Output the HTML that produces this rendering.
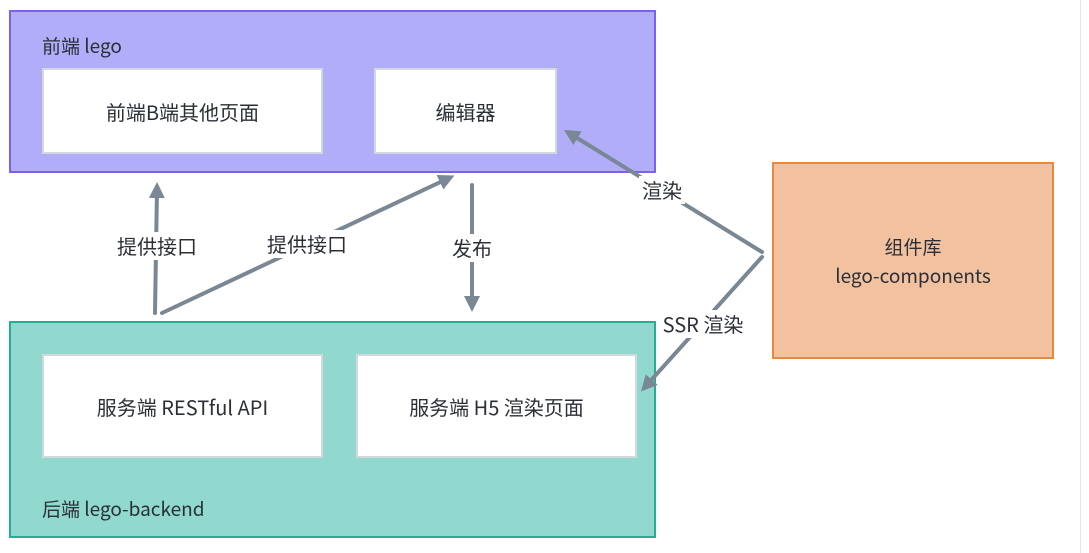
<!DOCTYPE html>
<html><head><meta charset="utf-8"><style>
body{margin:0;width:1089px;height:553px;background:#fff;position:relative;overflow:hidden;font-family:"Noto Sans CJK SC","Liberation Sans",sans-serif;color:#2b2f36}
.b{position:absolute;box-sizing:border-box}
.w{background:#fff;border:2px solid #d3d8de;display:flex;align-items:center;justify-content:center;font-size:20px}
.t{position:absolute;font-size:19px;line-height:24px}
.l{position:absolute;font-size:20px;line-height:24px;background:#fff;padding:2px 3px;transform:translate(-50%,-50%);white-space:nowrap}
</style></head><body>
<div class="b" style="left:9px;top:10px;width:647px;height:163px;background:#b2adf9;border:2px solid #7b62ee"></div>
<div class="t" style="left:42px;top:34px">前端 lego</div>
<div class="b w" style="left:42px;top:68px;width:281px;height:86px">前端B端其他页面</div>
<div class="b w" style="left:374px;top:68px;width:183px;height:86px">编辑器</div>
<div class="b" style="left:9px;top:321px;width:647px;height:217px;background:#91d8cf;border:2px solid #2aab98"></div>
<div class="b w" style="left:42px;top:354px;width:281px;height:104px">服务端 RESTful API</div>
<div class="b w" style="left:356px;top:354px;width:281px;height:104px">服务端 H5 渲染页面</div>
<div class="t" style="left:42px;top:497px">后端 lego-backend</div>
<div class="b" style="left:772px;top:162px;width:282px;height:197px;background:#f2c19f;border:2px solid #e8893f;display:flex;flex-direction:column;align-items:center;justify-content:center;font-size:19px;line-height:29px"><div>组件库</div><div>lego-components</div></div>
<div class="b" style="left:1080px;top:0;width:1px;height:553px;background:#e5e5e5"></div>
<svg class="b" style="left:0;top:0" width="1089" height="553">
<defs><marker id="a" markerWidth="4" markerHeight="4" refX="2.5" refY="2" orient="auto" markerUnits="strokeWidth"><path d="M0,0 L4,2 L0,4 z" fill="#7a8794"/></marker></defs>
<g stroke="#7a8794" stroke-width="4" fill="none" stroke-linecap="round">
<line x1="155" y1="313" x2="157" y2="188" marker-end="url(#a)"/>
<line x1="162" y1="313" x2="449" y2="178" marker-end="url(#a)"/>
<line x1="472" y1="185" x2="472" y2="306" marker-end="url(#a)"/>
<line x1="762" y1="252" x2="569" y2="133" marker-end="url(#a)"/>
<line x1="762" y1="257" x2="645" y2="387" marker-end="url(#a)"/>
</g></svg>
<div class="l" style="left:157px;top:246px">提供接口</div>
<div class="l" style="left:307px;top:244px">提供接口</div>
<div class="l" style="left:472px;top:248px">发布</div>
<div class="l" style="left:662px;top:190px">渲染</div>
<div class="l" style="left:703px;top:324px">SSR 渲染</div>
</body></html>
